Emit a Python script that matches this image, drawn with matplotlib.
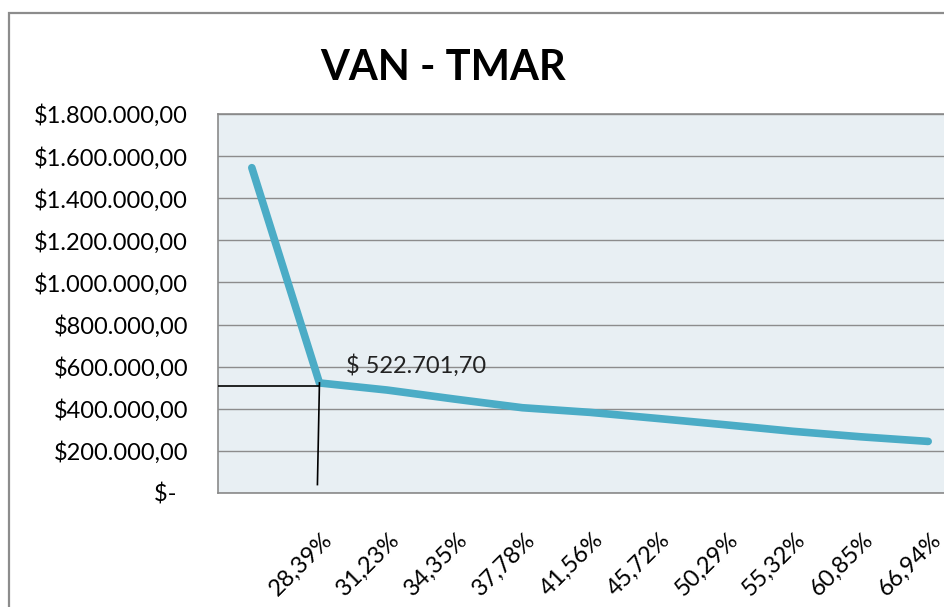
import matplotlib
matplotlib.use("Agg")
from matplotlib import pyplot as plt
from matplotlib import patches
from matplotlib.ticker import FuncFormatter
import matplotlib.transforms as mtransforms

plt.rcParams['font.family'] = ['Lato', 'DejaVu Sans']

# TMAR categories (first point has no label on the axis)
tmar_labels = ["", "28,39%", "31,23%", "34,35%", "37,78%", "41,56%",
               "45,72%", "50,29%", "55,32%", "60,85%", "66,94%"]
# VAN values
van = [1545000, 522701.70, 489000, 446000, 405000, 383000,
       354000, 324000, 293000, 267000, 245000]
y_ticks = [0, 200000, 400000, 600000, 800000, 1000000,
           1200000, 1400000, 1600000, 1800000]


def money(v, pos=None):
    if v == 0:
        return "$-  "
    s = f"{v:,.2f}".replace(",", "X").replace(".", ",").replace("X", ".")
    return "$" + s


fig = plt.figure(figsize=(9.45, 6.07), dpi=100)
W, H = 945, 607

# outer chart frame (cut off at right/bottom like the screenshot)
fig.patches.append(patches.Rectangle((9 / W, -0.1), 1.2, 1 - 13 / H + 0.1,
                                     transform=fig.transFigure, fill=False,
                                     edgecolor='#8c8c8c', lw=1.6))

ax = fig.add_axes([218 / W, 1 - 493 / H, 744 / W, 379 / H])
ax.set_facecolor('#E8EFF3')
for sp in ax.spines.values():
    sp.set_color('#8a8a8a')
    sp.set_linewidth(1.2)

x = list(range(len(van)))
ax.plot(x, van, color='#4BACC6', lw=5.5, solid_capstyle='round',
        solid_joinstyle='round', zorder=3)

ax.set_xlim(-0.5, len(van) - 0.5)
ax.set_ylim(0, 1800000)
ax.set_yticks(y_ticks)
ax.yaxis.set_major_formatter(FuncFormatter(money))
ax.grid(axis='y', color='#8c8c8c', lw=1.0)
ax.set_axisbelow(True)

ax.set_xticks(x)
ax.set_xticklabels(tmar_labels, rotation=45, ha='right', va='top',
                   rotation_mode='anchor')
ax.tick_params(axis='x', length=0, pad=26, labelsize=17)
ax.tick_params(axis='y', length=0, pad=21.5, labelsize=17)
offset = mtransforms.ScaledTranslation(2 / 100, 0, fig.dpi_scale_trans)
for lab in ax.get_xticklabels():
    lab.set_transform(lab.get_transform() + offset)

# reference lines to the highlighted point
ax.plot([-0.5, 1], [van[1] - 15000, van[1] - 15000], color='black', lw=1.2, zorder=4)
ax.plot([1, 0.97], [van[1], 40000], color='black', lw=1.2, zorder=4)
ax.annotate("$ " + money(van[1])[1:], xy=(1, van[1]), xytext=(27, 17),
            textcoords='offset pixels', va='center', ha='left', fontsize=17,
            color='#222222', zorder=5)

fig.text(443 / W, 1 - 68 / H, "VAN - TMAR", ha='center', va='center',
         fontsize=30, fontweight='bold')

fig.savefig("out.png", dpi=100)
